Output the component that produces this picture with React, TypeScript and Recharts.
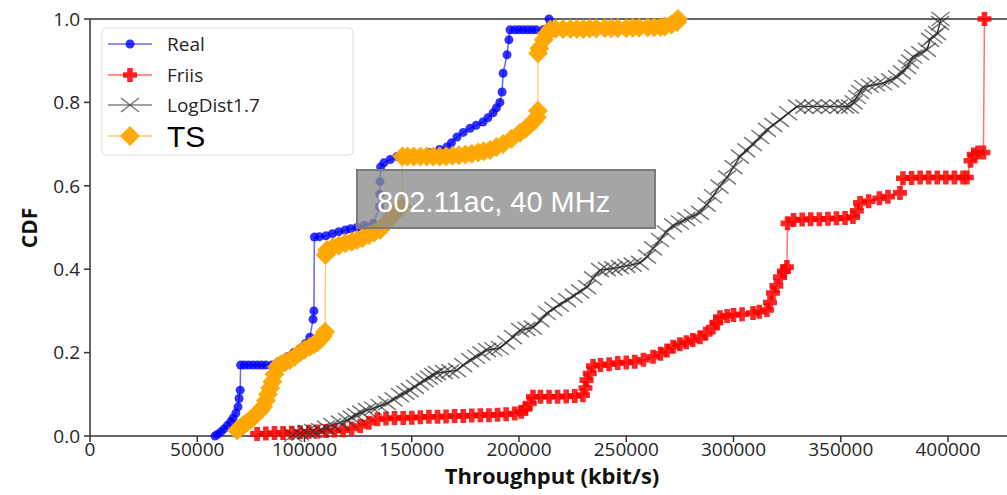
import { LineChart, Line, XAxis, YAxis, ReferenceLine } from "recharts"

// CDF of throughput, 802.11ac 40 MHz
const realX = [58300, 59500, 61000, 62500, 64000, 65500, 66700, 68000, 69000, 69500, 70000, 70200, 72000, 74000, 76000, 78000, 80000, 82000, 84800, 88000, 92000, 95000, 98000, 100500, 102500, 104000, 104400, 104600, 107000, 110000, 113000, 116000, 119000, 121500, 124500, 128000, 132000, 135000, 135100, 135200, 135500, 137000, 140000, 143100, 150000, 158000, 163000, 166400, 168500, 171100, 174000, 177200, 180000, 183200, 185500, 187900, 189500, 191100, 192100, 192600, 194400, 195300, 195800, 198000, 200000, 202000, 204000, 206000, 208000, 211200, 214000]
const realY = [0.0, 0.004, 0.01, 0.017, 0.025, 0.034, 0.043, 0.055, 0.07, 0.09, 0.11, 0.17, 0.17, 0.17, 0.17, 0.17, 0.17, 0.17, 0.17, 0.178, 0.19, 0.2, 0.21, 0.222, 0.237, 0.28, 0.3, 0.477, 0.478, 0.48, 0.485, 0.49, 0.494, 0.497, 0.5, 0.505, 0.51, 0.55, 0.58, 0.61, 0.645, 0.655, 0.663, 0.67, 0.675, 0.68, 0.687, 0.693, 0.703, 0.717, 0.728, 0.738, 0.745, 0.753, 0.763, 0.775, 0.787, 0.8, 0.825, 0.87, 0.914, 0.95, 0.974, 0.974, 0.974, 0.974, 0.974, 0.974, 0.974, 0.974, 1.0]

const friisX = [77900, 82000, 86000, 90000, 94000, 98000, 102000, 106000, 110000, 114000, 118000, 122000, 126000, 130000, 134000, 138000, 142000, 146000, 150000, 154000, 158000, 162000, 166000, 170000, 174000, 178000, 182000, 186000, 190000, 194000, 198000, 201000, 203000, 205000, 206500, 210000, 214000, 218000, 222000, 226000, 229800, 231000, 231500, 233000, 234500, 238000, 242000, 246000, 250000, 254000, 258000, 262500, 266000, 269000, 271800, 275000, 278000, 281000, 284400, 287000, 290400, 292000, 293700, 297000, 300000, 304000, 309100, 312000, 315600, 317000, 318400, 320000, 321700, 323500, 324900, 325200, 328000, 332000, 336000, 340000, 344000, 348000, 352000, 355700, 357500, 359000, 363000, 368000, 372000, 377600, 379000, 383000, 387000, 391000, 395000, 399000, 403000, 407000, 408800, 410500, 412000, 414000, 416500, 417000]
const friisY = [0.005, 0.006, 0.007, 0.007, 0.008, 0.009, 0.01, 0.011, 0.012, 0.013, 0.014, 0.018, 0.024, 0.032, 0.04, 0.042, 0.043, 0.043, 0.044, 0.045, 0.046, 0.046, 0.047, 0.048, 0.048, 0.049, 0.05, 0.05, 0.051, 0.052, 0.054, 0.058, 0.065, 0.078, 0.094, 0.094, 0.094, 0.094, 0.095, 0.096, 0.098, 0.115, 0.134, 0.15, 0.168, 0.17, 0.172, 0.175, 0.176, 0.178, 0.183, 0.19, 0.197, 0.205, 0.214, 0.22, 0.225, 0.23, 0.237, 0.245, 0.26, 0.272, 0.285, 0.288, 0.29, 0.292, 0.295, 0.298, 0.302, 0.32, 0.343, 0.36, 0.381, 0.395, 0.405, 0.51, 0.518, 0.519, 0.52, 0.52, 0.521, 0.522, 0.523, 0.525, 0.54, 0.559, 0.563, 0.57, 0.574, 0.583, 0.618, 0.619, 0.62, 0.62, 0.62, 0.62, 0.62, 0.62, 0.62, 0.66, 0.675, 0.68, 0.68, 1.0]

const logX = [94600, 98000, 101000, 104000, 107200, 110000, 113000, 116500, 119800, 122000, 124000, 126500, 129100, 132000, 135000, 138500, 141500, 144500, 147000, 149000, 151500, 153800, 156000, 158000, 160000, 161800, 165000, 168000, 171100, 174000, 177200, 180000, 182500, 185100, 188000, 191100, 194000, 197200, 200500, 203500, 206500, 210000, 213000, 216000, 219000, 222400, 225500, 228500, 231700, 234500, 237800, 241000, 244000, 247100, 250000, 253000, 256400, 259700, 262500, 265700, 268500, 271800, 275000, 278000, 281000, 284400, 287500, 290400, 293500, 297000, 300000, 303000, 306000, 309100, 312500, 315600, 318500, 321700, 325500, 329600, 333000, 337000, 341000, 345000, 349000, 352000, 354300, 356000, 357600, 359000, 360400, 363500, 366500, 369700, 373000, 376200, 378500, 380900, 382300, 383700, 387000, 390200, 391600, 393300, 394900, 396300, 396500]
const logY = [0.003, 0.006, 0.01, 0.012, 0.014, 0.02, 0.026, 0.032, 0.038, 0.044, 0.05, 0.056, 0.062, 0.066, 0.072, 0.079, 0.088, 0.098, 0.104, 0.11, 0.118, 0.127, 0.134, 0.14, 0.146, 0.151, 0.153, 0.155, 0.158, 0.17, 0.182, 0.19, 0.198, 0.206, 0.208, 0.211, 0.224, 0.237, 0.254, 0.257, 0.26, 0.278, 0.295, 0.305, 0.315, 0.326, 0.336, 0.347, 0.357, 0.378, 0.398, 0.4, 0.402, 0.405, 0.408, 0.411, 0.415, 0.43, 0.45, 0.47, 0.488, 0.505, 0.512, 0.52, 0.527, 0.535, 0.555, 0.575, 0.598, 0.62, 0.645, 0.67, 0.685, 0.7, 0.717, 0.734, 0.746, 0.758, 0.774, 0.79, 0.79, 0.79, 0.79, 0.79, 0.79, 0.79, 0.79, 0.8, 0.813, 0.825, 0.837, 0.84, 0.843, 0.846, 0.853, 0.86, 0.872, 0.885, 0.898, 0.91, 0.918, 0.926, 0.95, 0.958, 0.966, 0.99, 1.0]

const tsX = [68500, 70000, 71500, 73000, 74600, 76500, 78000, 79500, 80700, 82000, 83000, 84000, 85000, 86000, 87200, 89000, 91000, 93200, 95500, 97900, 100000, 102500, 104500, 106000, 107500, 108600, 109600, 109800, 110500, 113300, 116000, 119000, 122000, 124500, 127000, 130000, 132500, 135200, 137000, 139000, 141000, 143100, 145400, 145600, 148000, 151000, 154000, 157000, 160000, 163000, 166000, 169000, 172000, 175000, 178000, 181000, 183500, 186500, 189500, 192600, 196500, 200500, 203000, 205100, 207000, 208400, 208800, 208900, 209500, 211500, 213000, 214500, 217000, 220500, 224000, 227000, 230000, 233000, 236000, 240000, 243000, 246000, 250000, 253000, 256000, 260000, 263000, 266000, 268000, 271000, 273700, 274100]
const tsY = [0.014, 0.02, 0.026, 0.032, 0.038, 0.046, 0.055, 0.062, 0.07, 0.085, 0.1, 0.115, 0.13, 0.148, 0.166, 0.172, 0.177, 0.182, 0.19, 0.2, 0.207, 0.214, 0.22, 0.225, 0.232, 0.24, 0.25, 0.434, 0.446, 0.453, 0.457, 0.462, 0.466, 0.47, 0.475, 0.482, 0.488, 0.494, 0.505, 0.515, 0.528, 0.542, 0.55, 0.67, 0.67, 0.67, 0.67, 0.67, 0.67, 0.67, 0.671, 0.672, 0.673, 0.675, 0.677, 0.68, 0.683, 0.686, 0.693, 0.7, 0.713, 0.727, 0.737, 0.746, 0.756, 0.765, 0.78, 0.918, 0.93, 0.95, 0.965, 0.975, 0.976, 0.976, 0.976, 0.976, 0.976, 0.977, 0.977, 0.978, 0.978, 0.978, 0.978, 0.979, 0.979, 0.98, 0.98, 0.981, 0.982, 0.987, 0.993, 1.0]

const xTicks = [0, 50000, 100000, 150000, 200000, 250000, 300000, 350000, 400000]
const yTicks = [0, 0.2, 0.4, 0.6, 0.8, 1.0]

const toPoints = (xs: number[], ys: number[]) => xs.map((x, i) => ({ x, y: ys[i] }))

const real = toPoints(realX, realY)
const friis = toPoints(friisX, friisY)
const logDist = toPoints(logX, logY)
const ts = toPoints(tsX, tsY)

const BLUE = "#0000ff"
const RED = "#ff0000"
const GREY = "#303030"
const ORANGE = "#ffa500"
const AXIS = "#333333"
const FONT = "'Open Sans', 'DejaVu Sans', sans-serif"

const circle = (cx: number, cy: number, k?: any) => (
  <circle key={k} cx={cx} cy={cy} r={4.5} fill={BLUE} fillOpacity={0.8} />
)
const plus = (cx: number, cy: number, k?: any) => (
  <path
    key={k}
    d={`M${cx - 7},${cy - 2.8}h14v5.6h-14z M${cx - 2.8},${cy - 7}h5.6v14h-5.6z`}
    fill={RED}
    fillOpacity={0.85}
  />
)
const cross = (cx: number, cy: number, k?: any) => (
  <path
    key={k}
    d={`M${cx - 9},${cy - 7}L${cx + 9},${cy + 7}M${cx - 9},${cy + 7}L${cx + 9},${cy - 7}`}
    stroke={GREY}
    strokeWidth={1.5}
    strokeOpacity={0.65}
    fill="none"
  />
)
const diamond = (cx: number, cy: number, k?: any) => (
  <path
    key={k}
    d={`M${cx},${cy - 10}L${cx + 10},${cy}L${cx},${cy + 10}L${cx - 10},${cy}Z`}
    fill={ORANGE}
    fillOpacity={0.95}
  />
)

const dotOf = (fn: any) => (p: any) => fn(p.cx, p.cy, `d${p.index}`)

function Overlay() {
  const rows = [
    { y: 44, label: "Real", color: BLUE, mark: circle, size: 19, family: FONT, fill: "#262626" },
    { y: 75, label: "Friis", color: RED, mark: plus, size: 19, family: FONT, fill: "#262626" },
    { y: 105, label: "LogDist1.7", color: GREY, mark: cross, size: 19, family: FONT, fill: "#262626" },
    { y: 136, label: "TS", color: ORANGE, mark: diamond, size: 30, family: "'Liberation Sans', Arial, sans-serif", fill: "#000" },
  ]
  return (
    <svg width={1007} height={495} style={{ position: "absolute", left: 0, top: 0, pointerEvents: "none" }}>
      <rect x={102} y={28} width={251} height={127} rx={4} fill="#fff" fillOpacity={0.85} stroke="#dcdcdc" />
      {rows.map((r) => (
        <g key={r.label}>
          <line x1={108} x2={152} y1={r.y} y2={r.y} stroke={r.color} strokeOpacity={0.6} strokeWidth={1.5} />
          {r.mark(130, r.y)}
          <text x={167} y={r.y} dominantBaseline="central" fontSize={r.size} fontFamily={r.family} fill={r.fill}>
            {r.label}
          </text>
        </g>
      ))}
      <rect x={357} y={170} width={298} height={58} fill="#8c8c8c" fillOpacity={0.78} stroke="#7a7a7a" strokeWidth={2} />
      <text x={377} y={212} fontSize={29} fontFamily="'Liberation Sans', Arial, sans-serif" fill="#fff">
        802.11ac, 40 MHz
      </text>
      <text x={552} y={484} textAnchor="middle" fontSize={22} fontWeight="bold" fontFamily={FONT} fill="#111">
        Throughput (kbit/s)
      </text>
      <text
        x={37}
        y={228}
        textAnchor="middle"
        fontSize={21}
        fontWeight="bold"
        fontFamily={FONT}
        fill="#111"
        transform="rotate(-90 37 228)"
      >
        CDF
      </text>
    </svg>
  )
}

export default function App() {
  const tick = { fill: "#262626", fontSize: 19, fontFamily: FONT }
  return (
    <div style={{ position: "relative", width: 1007, height: 495, background: "#fff" }}>
      <style>{"body{margin:0}"}</style>
      <LineChart width={1007} height={495} margin={{ top: 19, right: 0, bottom: 0, left: 0 }}>
        <XAxis
          dataKey="x"
          type="number"
          domain={[0, 427500]}
          ticks={xTicks}
          allowDataOverflow
          height={59}
          stroke={AXIS}
          strokeWidth={1.5}
          tickSize={6}
          tickMargin={1}
          tick={tick}
        />
        <YAxis
          type="number"
          domain={[0, 1]}
          ticks={yTicks}
          width={90}
          stroke={AXIS}
          strokeWidth={1.5}
          tickSize={6}
          tickMargin={4}
          tick={tick}
          tickFormatter={(v: number) => v.toFixed(1)}
        />
        <ReferenceLine y={1} stroke={AXIS} strokeWidth={1.5} />
        <Line data={real} dataKey="y" type="linear" stroke={BLUE} strokeOpacity={0.6} strokeWidth={1.5} dot={dotOf(circle)} activeDot={false} isAnimationActive={false} />
        <Line data={friis} dataKey="y" type="linear" stroke={RED} strokeOpacity={0.55} strokeWidth={1.5} dot={dotOf(plus)} activeDot={false} isAnimationActive={false} />
        <Line data={logDist} dataKey="y" type="linear" stroke="#000" strokeOpacity={0.8} strokeWidth={1.5} dot={dotOf(cross)} activeDot={false} isAnimationActive={false} />
        <Line data={ts} dataKey="y" type="linear" stroke={ORANGE} strokeOpacity={0.6} strokeWidth={1.2} dot={dotOf(diamond)} activeDot={false} isAnimationActive={false} />
      </LineChart>
      <Overlay />
    </div>
  )
}
